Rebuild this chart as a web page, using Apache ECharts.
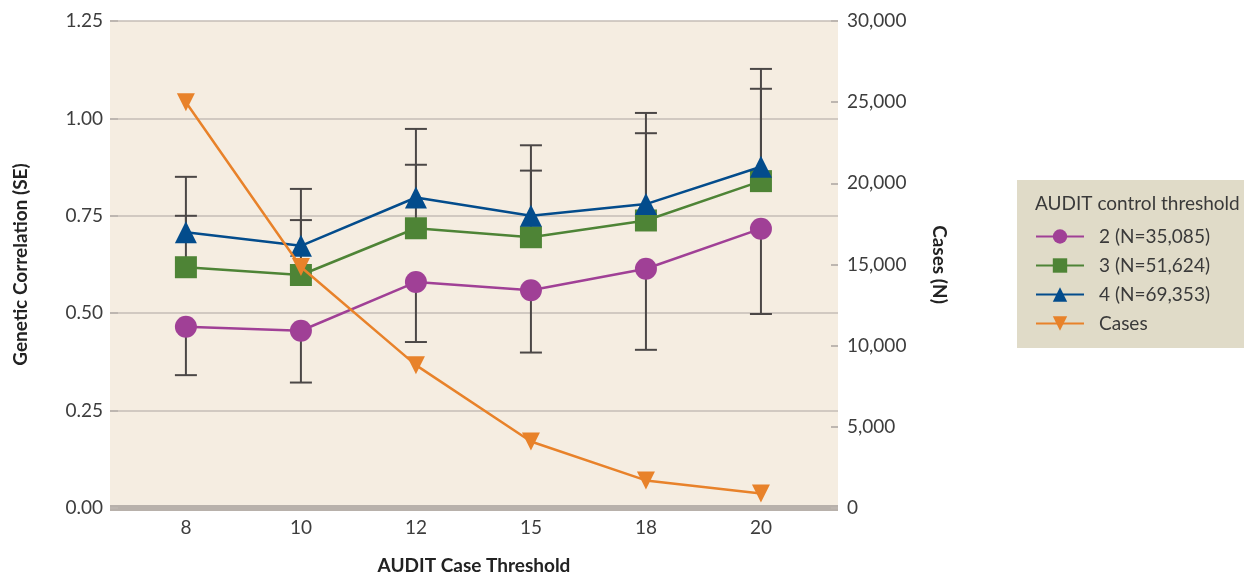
<!DOCTYPE html>
<html>
<head>
<meta charset="utf-8">
<script src="https://cdn.jsdelivr.net/npm/echarts@6/dist/echarts.min.js"></script>
<style>
  html, body { margin: 0; padding: 0; background: #fff; }
  #chart { width: 1244px; height: 574px; }
</style>
</head>
<body>
<div id="chart"></div>
<script>
// AUDIT case thresholds (x axis)
const categories = ['8', '10', '12', '15', '18', '20']

// genetic correlation for each control threshold
const rg2 = [0.465, 0.455, 0.580, 0.559, 0.614, 0.717]
const rg3 = [0.618, 0.598, 0.718, 0.695, 0.738, 0.839]
const rg4 = [0.708, 0.673, 0.797, 0.750, 0.780, 0.876]

// error bar ends (one-sided as drawn)
const err2Low = [0.341, 0.322, 0.426, 0.399, 0.406, 0.498]
const err3High = [0.750, 0.739, 0.881, 0.866, 0.962, 1.076]
const err4High = [0.850, 0.819, 0.973, 0.931, 1.014, 1.127]

// number of cases (right axis)
const cases = [25000, 14850, 8800, 4100, 1700, 900]

const leftTicks = [0, 0.25, 0.5, 0.75, 1.0, 1.25]
const rightTicks = [0, 5000, 10000, 15000, 20000, 25000, 30000]

const names = ['2 (N=35,085)', '3 (N=51,624)', '4 (N=69,353)', 'Cases']
const FONT = 'Lato, "Open Sans", sans-serif'
const FS = 19

const pts = arr => arr.map((v, i) => [i, v])
const bars = (vals, ends) => vals.map((v, i) => [i, v, ends[i]])

// error bar: stem from the point to the end, with a cap
function renderErr(params, api) {
  const x = api.value(0)
  const p0 = api.coord([x, api.value(1)])
  const p1 = api.coord([x, api.value(2)])
  const style = { stroke: '#4b4746', lineWidth: 2 }
  return {
    type: 'group',
    children: [
      { type: 'line', shape: { x1: p0[0], y1: p0[1], x2: p1[0], y2: p1[1] }, style },
      { type: 'line', shape: { x1: p1[0] - 11, y1: p1[1], x2: p1[0] + 11, y2: p1[1] }, style }
    ]
  }
}

const chart = echarts.init(document.getElementById('chart'))

chart.setOption({
  animation: false,
  textStyle: { fontFamily: FONT },
  grid: {
    left: 110, right: 406, top: 21, bottom: 66,
    outerBoundsMode: 'none',
    show: true, backgroundColor: '#f5ede1', borderWidth: 0
  },
  graphic: [
    {
      type: 'rect', left: 1017, top: 180,
      shape: { width: 227, height: 168 },
      style: { fill: '#e0dbc8' }, z: 0
    },
    {
      type: 'text', left: 1035, top: 194,
      style: { text: 'AUDIT control threshold', fill: '#3a3a3a', font: FS + 'px ' + FONT }, z: 5
    }
  ],
  legend: {
    data: names,
    orient: 'vertical',
    left: 1035, top: 227, padding: 0,
    itemWidth: 48, itemHeight: 18, itemGap: 10,
    textStyle: { fontSize: FS, color: '#3a3a3a', padding: [0, 0, 0, 10] },
    z: 5
  },
  xAxis: {
    type: 'value',
    min: -0.66, max: 5.67,
    name: 'AUDIT Case Threshold',
    nameLocation: 'middle', nameGap: 48,
    nameTextStyle: { fontSize: FS, fontWeight: 'bold', color: '#222' },
    axisLine: { show: true, onZero: false, lineStyle: { color: '#b8b1ab', width: 6, cap: 'butt' } },
    axisTick: { show: false },
    splitLine: { show: false },
    axisLabel: {
      customValues: categories.map((c, i) => i),
      formatter: v => categories[Math.round(v)],
      fontSize: FS, color: '#3d3d3d', margin: 10
    }
  },
  yAxis: [
    {
      type: 'value', min: 0, max: 1.25, interval: 0.25,
      name: 'Genetic Correlation (SE)',
      nameLocation: 'middle', nameGap: 80,
      nameTextStyle: { fontSize: FS, fontWeight: 'bold', color: '#222' },
      axisLine: { show: false, onZero: false },
      axisTick: { show: true, inside: true, length: 8, lineStyle: { color: '#bdb6b0', width: 2 } },
      splitLine: { show: true, lineStyle: { color: '#c4bdb6', width: 1.5 } },
      axisLabel: {
        customValues: leftTicks,
        formatter: v => v.toFixed(2), fontSize: FS, color: '#3d3d3d', margin: 7
      }
    },
    {
      type: 'value', min: 0, max: 30000, interval: 5000, position: 'right',
      name: 'Cases (N)',
      nameLocation: 'middle', nameGap: 92, nameRotate: -90,
      nameTextStyle: { fontSize: FS, fontWeight: 'bold', color: '#222' },
      axisLine: { show: false, onZero: false },
      axisTick: { show: true, inside: true, length: 7, lineStyle: { color: '#bdb6b0', width: 2 } },
      splitLine: { show: false },
      axisLabel: {
        customValues: rightTicks,
        formatter: v => v.toLocaleString('en-US'), fontSize: FS, color: '#3d3d3d', margin: 9
      }
    }
  ],
  series: [
    { type: 'custom', renderItem: renderErr, data: bars(rg2, err2Low), encode: { x: 0, y: [1, 2] }, z: 1, silent: true },
    { type: 'custom', renderItem: renderErr, data: bars(rg3, err3High), encode: { x: 0, y: [1, 2] }, z: 1, silent: true },
    { type: 'custom', renderItem: renderErr, data: bars(rg4, err4High), encode: { x: 0, y: [1, 2] }, z: 1, silent: true },
    {
      name: names[0], type: 'line', data: pts(rg2), z: 2,
      symbol: 'circle', symbolSize: 22,
      lineStyle: { color: '#a04096', width: 2.5 }, itemStyle: { color: '#a04096' }
    },
    {
      name: names[1], type: 'line', data: pts(rg3), z: 3,
      symbol: 'rect', symbolSize: 22,
      lineStyle: { color: '#4e8436', width: 2.5 }, itemStyle: { color: '#4e8436' }
    },
    {
      name: names[2], type: 'line', data: pts(rg4), z: 4,
      symbol: 'triangle', symbolSize: 22,
      lineStyle: { color: '#034c8c', width: 2.5 }, itemStyle: { color: '#034c8c' }
    },
    {
      name: names[3], type: 'line', yAxisIndex: 1, data: pts(cases), z: 5,
      symbol: 'triangle', symbolSize: 18, symbolRotate: 180,
      lineStyle: { color: '#e8822a', width: 2.5 }, itemStyle: { color: '#e8822a' }
    }
  ]
})
</script>
</body>
</html>
